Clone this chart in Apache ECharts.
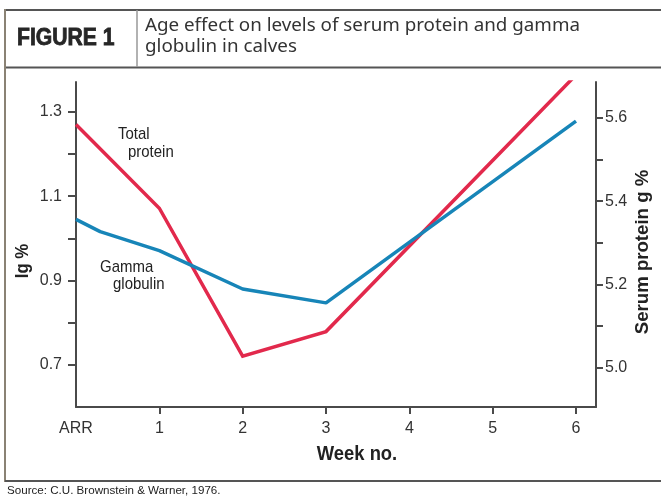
<!DOCTYPE html>
<html>
<head>
<meta charset="utf-8">
<script src="https://cdn.jsdelivr.net/npm/echarts@6/dist/echarts.min.js"></script>
<style>
html,body{margin:0;padding:0;background:#fff;}
#c{width:661px;height:496px;}
</style>
</head>
<body>
<div id="c"></div>
<script>
// ---- data ----
var weekLabels = ['ARR', '1', '2', '3', '4', '5', '6'];
var weekTicks = [0, 1, 2, 3, 4, 5, 6];
var gammaWeeks = [0, 0.29, 1, 2, 3, 6];
var gammaIg = [1.045, 1.016, 0.971, 0.880, 0.847, 1.278];
var proteinWeeks = [0, 1, 2, 3, 6];
var proteinSerum = [5.584, 5.383, 5.028, 5.087, 5.703];
var igTicks = [0.7, 0.8, 0.9, 1.0, 1.1, 1.2, 1.3];
var igLabels = [0.7, 0.9, 1.1, 1.3];
var serumTicks = [5.0, 5.1, 5.2, 5.3, 5.4, 5.5, 5.6];
var serumLabels = [5.0, 5.2, 5.4, 5.6];

var SANS = '"Liberation Sans", Arial, sans-serif';
var RED = '#e2294c';
var BLUE = '#1785b8';
var AX = '#4a4a4a';

function pairs(xs, ys) { return xs.map(function (x, i) { return [x, ys[i]]; }); }

var chart = echarts.init(document.getElementById('c'), null, {renderer: 'canvas'});
chart.setOption({
  animation: false,
  backgroundColor: '#fff',
  grid: {left: 76, right: 65, top: 82, bottom: 89, containLabel: false},
  xAxis: {
    type: 'value', min: 0, max: 6.24,
    axisLine: {show: true, lineStyle: {color: AX, width: 2}},
    axisTick: {show: true, length: 7, lineStyle: {color: AX, width: 2}, customValues: weekTicks.slice(1)},
    axisLabel: {
      customValues: weekTicks, margin: 14,
      fontFamily: SANS, fontSize: 16, color: '#333',
      formatter: function (v) { return weekLabels[Math.round(v)]; }
    },
    splitLine: {show: false}
  },
  yAxis: [{
    type: 'value', position: 'left', min: 0.6, max: 1.371,
    axisLine: {show: true, lineStyle: {color: AX, width: 2}},
    axisTick: {show: true, length: 8, lineStyle: {color: AX, width: 2}, customValues: igTicks},
    axisLabel: {
      customValues: igLabels, margin: 14,
      fontFamily: SANS, fontSize: 16, color: '#333',
      formatter: function (v) { return v.toFixed(1); }
    },
    splitLine: {show: false}
  }, {
    type: 'value', position: 'right', min: 4.906, max: 5.686,
    axisLine: {show: true, lineStyle: {color: AX, width: 2}},
    axisTick: {show: true, length: 7, lineStyle: {color: AX, width: 2}, customValues: serumTicks},
    axisLabel: {
      customValues: serumLabels, margin: 9,
      fontFamily: SANS, fontSize: 16, color: '#333',
      formatter: function (v) { return v.toFixed(1); }
    },
    splitLine: {show: false}
  }],
  series: [{
    name: 'Total protein', type: 'line', yAxisIndex: 1,
    data: pairs(proteinWeeks, proteinSerum),
    showSymbol: false, symbol: 'none', clip: true,
    lineStyle: {color: RED, width: 3.5, join: 'miter'}
  }, {
    name: 'Gamma globulin', type: 'line', yAxisIndex: 0,
    data: pairs(gammaWeeks, gammaIg),
    showSymbol: false, symbol: 'none', clip: true,
    lineStyle: {color: BLUE, width: 3.5}
  }],
  graphic: [
    // frame
    {type: 'line', shape: {x1: 5, y1: 10, x2: 661, y2: 10}, style: {stroke: '#555', lineWidth: 2}},
    {type: 'line', shape: {x1: 5, y1: 67.5, x2: 661, y2: 67.5}, style: {stroke: '#555', lineWidth: 2}},
    {type: 'line', shape: {x1: 137, y1: 10, x2: 137, y2: 67}, style: {stroke: '#999', lineWidth: 1.5}},
    {type: 'line', shape: {x1: 5, y1: 9, x2: 5, y2: 482}, style: {stroke: '#8a8274', lineWidth: 2}},
    {type: 'line', shape: {x1: 5, y1: 481, x2: 661, y2: 481}, style: {stroke: '#555', lineWidth: 2}},
    // header texts
    {type: 'text', x: 17, y: 39, scaleX: 0.92, style: {text: 'FIGURE 1', font: 'bold 23px ' + SANS, fill: '#262626', stroke: '#262626', lineWidth: 0.8, verticalAlign: 'middle'}},
    {type: 'text', x: 145, y: 15, style: {text: 'Age effect on levels of serum protein and gamma\nglobulin in calves', font: '18.8px "Noto Sans", sans-serif', lineHeight: 21, fill: '#333'}},
    // source
    {type: 'text', left: 7, top: 485, style: {text: 'Source: C.U. Brownstein & Warner, 1976.', font: '11.6px ' + SANS, fill: '#222'}},
    // axis names
    {type: 'text', x: 23, y: 261, rotation: Math.PI / 2, scaleX: 0.88, style: {text: 'Ig %', font: 'bold 19px ' + SANS, fill: '#222', align: 'center', verticalAlign: 'middle'}},
    {type: 'text', x: 643, y: 252, rotation: Math.PI / 2, scaleX: 0.98, style: {text: 'Serum protein g %', font: 'bold 19px ' + SANS, fill: '#222', align: 'center', verticalAlign: 'middle'}},
    {type: 'text', x: 357, y: 454, scaleX: 0.92, style: {text: 'Week no.', font: 'bold 20px ' + SANS, fill: '#222', align: 'center', verticalAlign: 'middle'}},
    // series annotations
    {type: 'text', x: 118, y: 134, scaleX: 0.88, style: {text: 'Total', font: '17px ' + SANS, fill: '#222', verticalAlign: 'middle'}},
    {type: 'text', x: 128, y: 152, scaleX: 0.88, style: {text: 'protein', font: '17px ' + SANS, fill: '#222', verticalAlign: 'middle'}},
    {type: 'text', x: 100, y: 267, scaleX: 0.88, style: {text: 'Gamma', font: '17px ' + SANS, fill: '#222', verticalAlign: 'middle'}},
    {type: 'text', x: 113, y: 284, scaleX: 0.88, style: {text: 'globulin', font: '17px ' + SANS, fill: '#222', verticalAlign: 'middle'}}
  ]
});
</script>
</body>
</html>
